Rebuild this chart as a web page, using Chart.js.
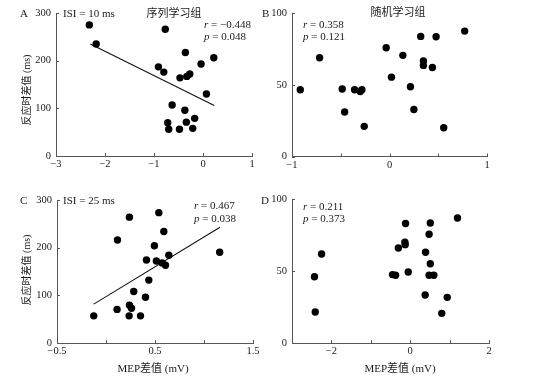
<!DOCTYPE html>
<html><head><meta charset="utf-8">
<script src="https://cdn.jsdelivr.net/npm/chart.js@4.4.0/dist/chart.umd.min.js"></script>
<style>
html,body{margin:0;padding:0;background:#fff;}
#wrap{position:relative;width:554px;height:382px;overflow:hidden;font-family:"Liberation Serif","Noto Sans CJK SC",serif;color:#1a1a1a;}
canvas{position:absolute;}
.t{position:absolute;white-space:nowrap;font-size:11px;line-height:1;transform:translateY(-50%);}
.c{transform:translate(-50%,-50%);}
.v{transform:translate(-50%,-50%) rotate(-90deg);font-size:10px;}
</style></head><body>
<div id="wrap">
<canvas id="cA" style="left:0;top:0"></canvas>
<canvas id="cB" style="left:262px;top:0"></canvas>
<canvas id="cC" style="left:0;top:180px"></canvas>
<canvas id="cD" style="left:262px;top:180px"></canvas>

<div class="t" style="left:20px;top:13px">A</div>
<div class="t" style="left:63px;top:13px">ISI = 10 ms</div>
<div class="t c" style="left:174px;top:13px">序列学习组</div>
<div class="t" style="left:204px;top:24px"><i>r</i> = −0.448</div>
<div class="t" style="left:204px;top:36px"><i>p</i> = 0.048</div>

<div class="t" style="left:262px;top:13px">B</div>
<div class="t c" style="left:398px;top:12px">随机学习组</div>
<div class="t" style="left:303px;top:24px"><i>r</i> = 0.358</div>
<div class="t" style="left:303px;top:36px"><i>p</i> = 0.121</div>

<div class="t" style="left:20px;top:200px">C</div>
<div class="t" style="left:63px;top:200px">ISI = 25 ms</div>
<div class="t" style="left:194px;top:205px"><i>r</i> = 0.467</div>
<div class="t" style="left:194px;top:218px"><i>p</i> = 0.038</div>

<div class="t" style="left:261px;top:200px">D</div>
<div class="t" style="left:303px;top:206px"><i>r</i> = 0.211</div>
<div class="t" style="left:303px;top:218px"><i>p</i> = 0.373</div>

<div class="t v" style="left:27px;top:90px">反应时差值 (ms)</div>
<div class="t v" style="left:27px;top:270px">反应时差值 (ms)</div>
<div class="t c" style="left:153px;top:368px">MEP差值 (mV)</div>
<div class="t c" style="left:400px;top:368px">MEP差值 (mV)</div>
</div>
<script>
// Panel A: ISI = 10 ms, sequence learning group
const aX = [-2.32,-2.18,-0.77,-0.36,-0.91,-0.80,-0.47,-0.33,-0.27,-0.04,0.22,0.07,-0.63,-0.37,-0.72,-0.70,-0.48,-0.34,-0.17,-0.21];
const aY = [275,235,266,217,187,176,164,167,172,193,206,130,107,96,70,56,56,71,79,58];
const aFitX = [-2.30, 0.23];
const aFitY = [235, 106];
// Panel B: ISI = 10 ms, random learning group
const bX = [-0.915,-0.717,-0.485,-0.46,-0.358,-0.30,-0.283,-0.259,-0.034,0.02,0.137,0.215,0.25,0.32,0.348,0.348,0.44,0.478,0.556,0.771];
const bY = [46.5,68.8,47,31,46.5,45.3,46.5,21,75.8,55.3,70.5,48.6,32.8,83.7,66.5,63.5,62,83.5,20,87.4];
// Panel C: ISI = 25 ms, sequence learning group
const cX = [-0.125,0.113,0.117,0.239,0.239,0.26,0.236,0.283,0.352,0.403,0.413,0.437,0.494,0.514,0.539,0.573,0.59,0.607,0.641,1.16];
const cY = [57,70.5,216,264,79.5,73,57,108,57,96,174,132,204,172,273.5,168,234,163,184,190.5];
const cFitX = [-0.125, 1.163];
const cFitY = [81.6, 243];
// Panel D: ISI = 25 ms, random learning group
const dX = [-2.43,-2.41,-2.25,-0.45,-0.37,-0.30,-0.135,-0.127,-0.118,-0.05,0.39,0.38,0.48,0.51,0.51,0.48,0.60,0.80,0.94,1.20];
const dY = [46,21.5,61.8,47.5,47,66,70,68.3,83,49.3,63,33.3,75.5,83.3,55,47,47,20.6,31.7,86.8];

// Tick labels shown on each axis
const aXLabels = [-3,-2,-1,0,1];
const bXLabels = [-1,0,1];
const cXLabels = [-0.5,0.5,1.5];
const dXLabels = [-2,0,2];
const aYLabels = [0,100,200,300];
const bYLabels = [0,50,100];
const cYLabels = [0,100,200,300];
const dYLabels = [0,50,100];

const AXC = '#555';
const FONT = {family:'"Liberation Serif","Noto Sans CJK SC",serif', size:10.5};

const inTicks = {id:'inTicks', afterDatasetsDraw(chart){
  const ctx = chart.ctx, a = chart.chartArea;
  ctx.save(); ctx.strokeStyle = AXC; ctx.lineWidth = 1; ctx.beginPath();
  chart.scales.x.ticks.forEach(t => { const px = Math.round(chart.scales.x.getPixelForValue(t.value)) + 0.5; ctx.moveTo(px, a.bottom); ctx.lineTo(px, a.bottom - 3); });
  chart.scales.y.ticks.forEach(t => { const py = Math.round(chart.scales.y.getPixelForValue(t.value)) + 0.5; ctx.moveTo(a.left, py); ctx.lineTo(a.left + 3, py); });
  ctx.stroke(); ctx.restore();
}};

function fmt(v){ const s = String(Math.round(v*100)/100); return s.replace('-', '\u2212'); }
function has(list, v){ return list.some(x => Math.abs(x - v) < 1e-6); }
function pts(xs, ys){ return xs.map((x,i) => ({x, y: ys[i]})); }

function make(id, W, H, area, xs, ys, fitX, fitY, xr, yr, xLab, yLab){
  const cv = document.getElementById(id);
  cv.width = W; cv.height = H; cv.style.width = W + 'px'; cv.style.height = H + 'px';
  const datasets = [{data: pts(xs, ys), pointRadius: 3.7, pointHoverRadius: 3.7, backgroundColor: '#000', borderWidth: 0, clip: false}];
  if (fitX) datasets.push({data: pts(fitX, fitY), showLine: true, pointRadius: 0, borderColor: '#111', borderWidth: 1.1, fill: false});
  new Chart(cv, {
    type: 'scatter',
    data: {datasets},
    options: {
      responsive: false, animation: false, devicePixelRatio: 1,
      layout: {padding: {left: 0, top: area.top, right: W - area.right, bottom: 0}},
      plugins: {legend: {display: false}, tooltip: {enabled: false}},
      scales: {
        x: {type: 'linear', min: xr[0], max: xr[1],
            ticks: {stepSize: xr[2], color: '#1a1a1a', font: FONT, padding: 2, maxRotation: 0, autoSkip: false,
                    callback: v => has(xLab, v) ? fmt(v) : ''},
            grid: {display: false, drawTicks: false}, border: {color: AXC, width: 1},
            afterFit: s => { s.height = H - area.bottom; }},
        y: {type: 'linear', min: yr[0], max: yr[1],
            ticks: {stepSize: yr[2], color: '#1a1a1a', font: FONT, padding: 5, autoSkip: false,
                    callback: v => has(yLab, v) ? fmt(v) : ''},
            grid: {display: false, drawTicks: false}, border: {color: AXC, width: 1},
            afterFit: s => { s.width = area.left; }}
      }
    },
    plugins: [inTicks]
  });
}

make('cA', 262, 180, {left: 56, right: 252, top: 13, bottom: 156}, aX, aY, aFitX, aFitY, [-3, 1, 1], [0, 300, 100], aXLabels, aYLabels);
make('cB', 292, 180, {left: 30, right: 225, top: 13, bottom: 156.5}, bX, bY, null, null, [-1, 1, 0.5], [0, 100, 50], bXLabels, bYLabels);
make('cC', 262, 202, {left: 57, right: 253, top: 20, bottom: 163}, cX, cY, cFitX, cFitY, [-0.5, 1.5, 0.5], [0, 300, 100], cXLabels, cYLabels);
make('cD', 292, 202, {left: 30, right: 227, top: 19, bottom: 163}, dX, dY, null, null, [-3, 2, 1], [0, 100, 50], dXLabels, dYLabels);
</script>
</body></html>
